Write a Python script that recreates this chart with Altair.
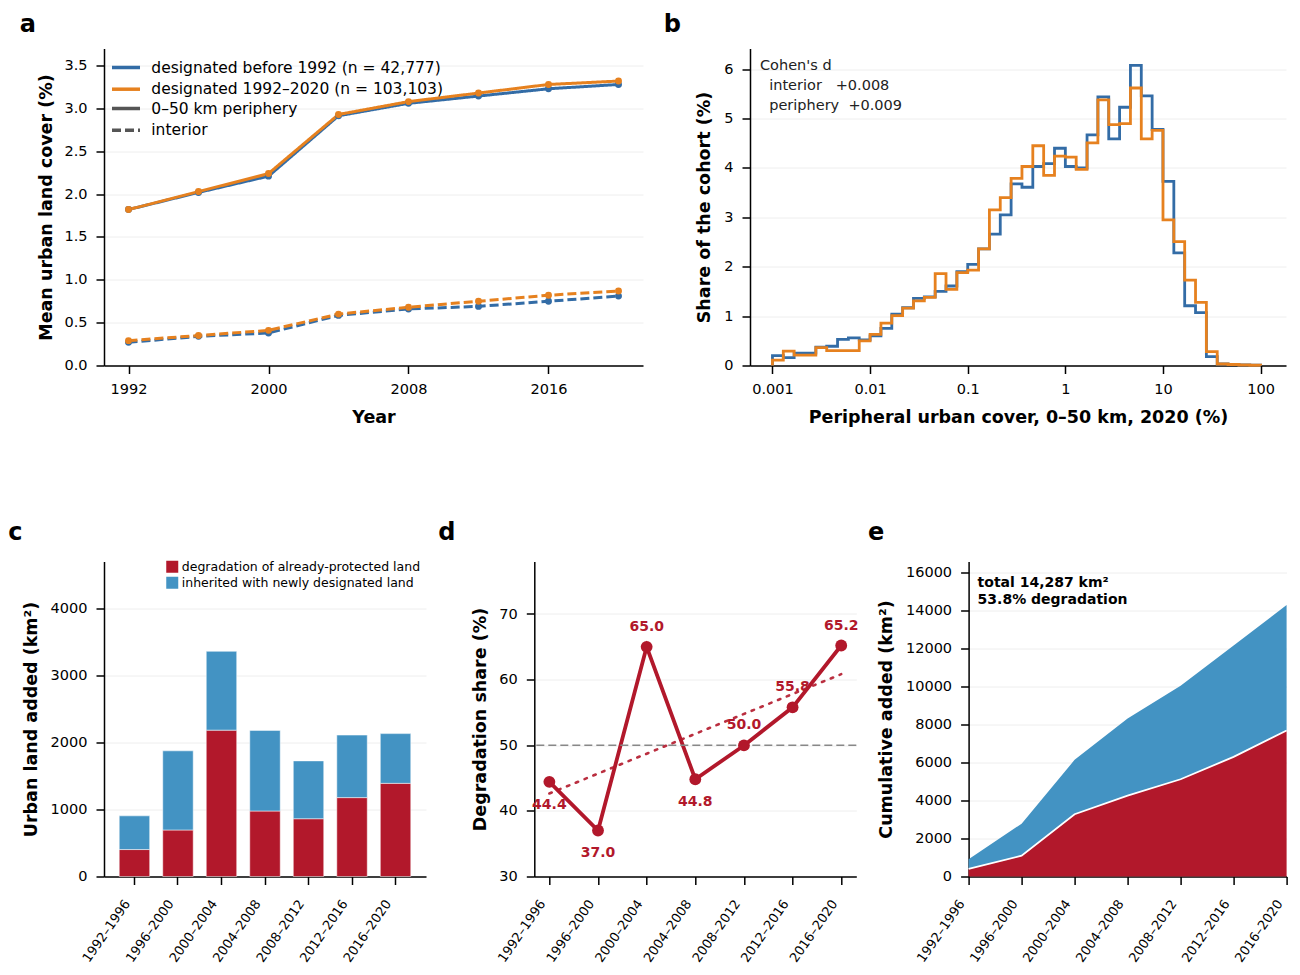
import json
import altair as alt
import numpy as np
import pandas as pd

FONT = "DejaVu Sans"
BLUE, ORANGE, GREY = "#336ca6", "#e6811f", "#555555"
RED, SKY = "#b2182b", "#4393c3"

# ---------------- panel a data ----------------
years = [1992, 1996, 2000, 2004, 2008, 2012, 2016, 2020]
periphery_before = [1.82, 2.02, 2.21, 2.915, 3.06, 3.145, 3.23, 3.28]
periphery_new = [1.82, 2.03, 2.24, 2.93, 3.08, 3.18, 3.28, 3.32]
interior_before = [0.27, 0.34, 0.38, 0.585, 0.66, 0.69, 0.75, 0.81]
interior_new = [0.29, 0.35, 0.41, 0.60, 0.68, 0.75, 0.82, 0.87]
cohort_labels = ["designated before 1992 (n = 42,777)", "designated 1992–2020 (n = 103,103)"]
zone_labels = ["0–50 km periphery", "interior"]
year_ticks = [1992, 2000, 2008, 2016]
a_y_ticks = [0, 0.5, 1.0, 1.5, 2.0, 2.5, 3.0, 3.5]

# ---------------- panel b data ----------------
share_before = [0.20, 0.16, 0.25, 0.25, 0.37, 0.39, 0.53, 0.56, 0.52, 0.60,
                0.75, 1.04, 1.17, 1.36, 1.39, 1.50, 1.61, 1.90, 2.05, 2.36,
                2.66, 3.05, 3.68, 3.61, 4.03, 4.09, 4.40, 4.03, 4.00, 4.67,
                5.44, 4.59, 5.23, 6.08, 5.46, 4.78, 3.73, 2.28, 1.21, 1.07,
                0.18, 0.03, 0.02, 0.01, 0.005]
share_new = [0.11, 0.29, 0.21, 0.21, 0.36, 0.30, 0.30, 0.30, 0.50, 0.63,
             0.86, 1.01, 1.16, 1.31, 1.38, 1.86, 1.54, 1.88, 1.93, 2.36,
             3.15, 3.40, 3.79, 4.03, 4.45, 3.85, 4.24, 4.22, 3.97, 4.51,
             5.38, 4.88, 4.90, 5.62, 4.59, 4.76, 2.95, 2.51, 1.73, 1.28,
             0.28, 0.03, 0.02, 0.01, 0.005]
hist_log_range = (-3, 2)
log_ticks = [0.001, 0.01, 0.1, 1, 10, 100]
b_y_ticks = [0, 1, 2, 3, 4, 5, 6]
cohens_d_interior = 0.008
cohens_d_periphery = 0.009

# ---------------- panels c, d, e data ----------------
periods = ["1992–1996", "1996–2000", "2000–2004", "2004–2008",
           "2008–2012", "2012–2016", "2016–2020"]
degradation = [402, 694, 2184, 977, 862, 1177, 1390]
inherited = [503, 1181, 1176, 1203, 863, 933, 742]
component_labels = ["degradation of already-protected land", "inherited with newly designated land"]
c_y_ticks = [0, 1000, 2000, 3000, 4000]
d_y_ticks = [30, 40, 50, 60, 70]
parity_line = 50
e_y_ticks = [0, 2000, 4000, 6000, 8000, 10000, 12000, 14000, 16000]

W_TOP, H_TOP = 539, 317
W_B, H_BOT = 536, 315
W_BOT, W_E = 322, 318


def letter(ch, xpix, ypix):
    return alt.Chart(pd.DataFrame({"t": [ch]})).mark_text(
        align="left", baseline="alphabetic", fontSize=24, fontWeight="bold",
        color="black", font=FONT
    ).encode(x=alt.value(xpix), y=alt.value(ypix), text="t:N")


def spacer(xpix):
    # invisible helper that only aligns the panel's left edge with the row below
    return alt.Chart(pd.DataFrame({"s": [0]})).mark_rule(opacity=0, strokeOpacity=0).encode(
        x=alt.value(xpix), x2=alt.value(xpix + 0.5), y=alt.value(0), y2=alt.value(1))


def y_axis(title, tx, h, **kw):
    return alt.Axis(title=title, titleX=tx, titleY=h / 2, titleBaseline="bottom",
                    titleAlign="center", titleAngle=270, labelOverlap=False, **kw)


def x_title_axis(title, w, **kw):
    return alt.Axis(title=title, titleX=w / 2, titleY=42.6, titleBaseline="top",
                    titleAlign="center", grid=False, **kw)


def rotated_axis(**kw):
    return alt.Axis(title=None, labelAngle=-55, labelAlign="right", labelBaseline="top",
                    labelFontSize=13, labelPadding=13, labelOffset=-12, grid=False,
                    labelOverlap=False, **kw)


# ---------------- panel a ----------------
rows = []
for ci, (per, inte) in enumerate([(periphery_before, interior_before),
                                  (periphery_new, interior_new)]):
    for zi, vals in enumerate([per, inte]):
        for yr, v in zip(years, vals):
            rows.append({"year": yr, "value": v, "cohort": cohort_labels[ci],
                         "zone": zone_labels[zi]})
df_a = pd.DataFrame(rows)

leg_a = dict(title=None, orient="none", symbolType="M-1.4,0H1.4", symbolSize=400,
             symbolStrokeWidth=3.5, labelFontSize=15.5, labelOffset=13.3, rowPadding=0.7,
             padding=0, labelLimit=500, labelColor="black")

xa = alt.X("year:Q", scale=alt.Scale(domain=[1990.6, 2021.4], nice=False, zero=False),
           axis=x_title_axis("Year", W_TOP, values=year_ticks, format="d"))
ya = alt.Y("value:Q", scale=alt.Scale(domain=[0, 3.7], nice=False),
           axis=y_axis("Mean urban land cover (%)", -48.4, H_TOP, values=a_y_ticks, format=".1f"))
color_a = alt.Color("cohort:N", scale=alt.Scale(domain=cohort_labels, range=[BLUE, ORANGE]),
                    legend=alt.Legend(legendX=10, legendY=7, **leg_a))

a_lines = alt.Chart(df_a).mark_line(strokeWidth=3).encode(
    x=xa, y=ya, color=color_a,
    strokeDash=alt.StrokeDash("zone:N",
                              scale=alt.Scale(domain=zone_labels, range=[[1, 0], [9, 4]]),
                              legend=alt.Legend(legendX=10, legendY=48,
                                                symbolStrokeColor=GREY, **leg_a)),
    detail="zone:N",
)
a_pts = alt.Chart(df_a).mark_circle(size=48, opacity=1).encode(x=xa, y=ya, color=color_a)
chart_a = alt.layer(a_lines, a_pts, letter("a", -84.3, -16.3), spacer(-94.7)).properties(
    width=W_TOP, height=H_TOP)

# ---------------- panel b ----------------
edges = np.logspace(hist_log_range[0], hist_log_range[1], len(share_before) + 1)
rows = []
for ci, vals in enumerate([share_before, share_new]):
    pts = [(edges[0], 0.0)]
    for k, v in enumerate(vals):
        pts += [(edges[k], v), (edges[k + 1], v)]
    pts.append((edges[-1], 0.0))
    for o, (xv, yv) in enumerate(pts):
        rows.append({"x": float(xv), "share": yv, "cohort": cohort_labels[ci], "o": o})
df_b = pd.DataFrame(rows)

b_lines = alt.Chart(df_b).mark_line(strokeWidth=2.8, strokeJoin="miter").encode(
    x=alt.X("x:Q", scale=alt.Scale(type="log", domain=[10 ** -3.23, 10 ** 2.26], nice=False),
            axis=x_title_axis("Peripheral urban cover, 0–50 km, 2020 (%)", W_B,
                              values=log_ticks, format="~g")),
    y=alt.Y("share:Q", scale=alt.Scale(domain=[0, 6.42], nice=False),
            axis=y_axis("Share of the cohort (%)", -36.4, H_TOP, values=b_y_ticks)),
    color=alt.Color("cohort:N", scale=alt.Scale(domain=cohort_labels, range=[BLUE, ORANGE]),
                    legend=None),
    order="o:Q",
)
nb = "\u00a0"
cohen_lines = ["Cohen's d",
               "interior" + nb * 3 + f"{cohens_d_interior:+.3f}",
               "periphery" + nb * 2 + f"{cohens_d_periphery:+.3f}"]
cohen_x = [10, 19.2, 19.2]
b_texts = [
    alt.Chart(pd.DataFrame({"t": [t]})).mark_text(
        align="left", baseline="middle", fontSize=14.5, color="#222222", font=FONT
    ).encode(x=alt.value(xv), y=alt.value(17.5 + 20 * i), text="t:N")
    for i, (t, xv) in enumerate(zip(cohen_lines, cohen_x))
]
chart_b = alt.layer(b_lines, *b_texts, letter("b", -86.3, -16.3)).properties(
    width=W_B, height=H_TOP)

# ---------------- panel c ----------------
rows = []
for p, d, i in zip(periods, degradation, inherited):
    rows.append({"period": p, "component": component_labels[0], "value": d, "ord": 0})
    rows.append({"period": p, "component": component_labels[1], "value": i, "ord": 1})
df_c = pd.DataFrame(rows)

c_bars = alt.Chart(df_c).mark_bar(stroke="white", strokeWidth=0.5).encode(
    x=alt.X("period:N", sort=periods, scale=alt.Scale(paddingInner=0.3, paddingOuter=0.35),
            axis=rotated_axis()),
    y=alt.Y("value:Q", scale=alt.Scale(domain=[0, 4700], nice=False),
            axis=y_axis("Urban land added (km²)", -63.4, H_BOT, values=c_y_ticks, format="d")),
    color=alt.Color("component:N", scale=alt.Scale(domain=component_labels, range=[RED, SKY]),
                    legend=alt.Legend(title=None, orient="none", legendX=62, legendY=-1,
                                      symbolType="square", symbolSize=144, symbolStrokeWidth=0,
                                      labelFontSize=12.5, labelOffset=3.3, rowPadding=3,
                                      padding=0, labelLimit=400, labelColor="black")),
    order=alt.Order("ord:Q"),
)
chart_c = alt.layer(c_bars, letter("c", -95.7, -21.3)).properties(width=W_BOT, height=H_BOT)

# ---------------- panel d ----------------
df_d = pd.DataFrame({
    "idx": list(range(len(periods))),
    "period": periods,
    "share": [100.0 * d / (d + i) for d, i in zip(degradation, inherited)],
})
xd = alt.X("idx:Q", scale=alt.Scale(domain=[-0.31, len(periods) - 1 + 0.31], nice=False, zero=False),
           axis=rotated_axis(values=list(range(len(periods))),
                             labelExpr=json.dumps(periods, ensure_ascii=False) + "[datum.value]"))
yd = alt.Y("share:Q", scale=alt.Scale(domain=[30, 78], nice=False),
           axis=y_axis("Degradation share (%)", -44.4, H_BOT, values=d_y_ticks))

d_rule = alt.Chart(pd.DataFrame({"ref": [parity_line]})).mark_rule(
    color="#888888", strokeDash=[8, 4], strokeWidth=1.6
).encode(y=alt.Y("ref:Q"))
d_line = alt.Chart(df_d).mark_line(color=RED, strokeWidth=3.8).encode(x=xd, y=yd)
d_pts = alt.Chart(df_d).mark_circle(color=RED, size=140, opacity=1).encode(x=xd, y=yd)
lab_kw = dict(fontSize=14, fontWeight="bold", color=RED, font=FONT, baseline="middle")
d_lab_up = alt.Chart(df_d).transform_filter("round(datum.share * 10) / 10 >= 50").mark_text(
    dy=-20, **lab_kw).encode(x=xd, y=yd, text=alt.Text("share:Q", format=".1f"))
d_lab_dn = alt.Chart(df_d).transform_filter("round(datum.share * 10) / 10 < 50").mark_text(
    dy=23, **lab_kw).encode(x=xd, y=yd, text=alt.Text("share:Q", format=".1f"))
d_trend = alt.Chart(df_d).transform_regression("idx", "share").mark_line(
    color=RED, strokeDash=[2.5, 7], strokeWidth=2.6, strokeCap="round", opacity=0.9
).encode(x=xd, y=yd)
chart_d = alt.layer(d_line, d_rule, d_pts, d_lab_up, d_lab_dn, d_trend,
                    letter("d", -96, -21.3), spacer(-99.7)).properties(width=W_BOT, height=H_BOT)

# ---------------- panel e ----------------
cum_deg = np.cumsum(degradation)
cum_inh = np.cumsum(inherited)
rows = []
for p, cd, ci in zip(periods, cum_deg, cum_inh):
    rows.append({"period": p, "component": component_labels[0], "value": int(cd), "ord": 0})
    rows.append({"period": p, "component": component_labels[1], "value": int(ci), "ord": 1})
df_e = pd.DataFrame(rows)
total = int(cum_deg[-1] + cum_inh[-1])
pct = 100.0 * cum_deg[-1] / total

xe = alt.X("period:N", sort=periods, scale=alt.Scale(type="point", padding=0),
           axis=rotated_axis())
ye_scale = alt.Scale(domain=[0, 16580], nice=False)
ye_axis = y_axis("Cumulative added (km²)", -73.4, H_BOT, values=e_y_ticks, format="d")
e_area = alt.Chart(df_e).mark_area(opacity=1).encode(
    x=xe,
    y=alt.Y("value:Q", stack="zero", scale=ye_scale, axis=ye_axis),
    color=alt.Color("component:N", scale=alt.Scale(domain=component_labels, range=[RED, SKY]),
                    legend=None),
    order=alt.Order("ord:Q"),
)
e_edge = alt.Chart(df_e).transform_filter(alt.datum.ord == 0).mark_line(
    color="white", strokeWidth=1.8
).encode(x=xe, y=alt.Y("value:Q", scale=ye_scale, axis=ye_axis))
e_text = alt.Chart(pd.DataFrame({"t": [f"total {total:,} km²\n{pct:.1f}% degradation"]})).mark_text(
    align="left", baseline="top", lineBreak="\n", lineHeight=16.5, fontSize=14,
    fontWeight="bold", color="black", font=FONT
).encode(x=alt.value(9), y=alt.value(14.5), text="t:N")
chart_e = alt.layer(e_area, e_edge, e_text, letter("e", -100.7, -21.3)).properties(
    width=W_E, height=H_BOT)

# ---------------- assemble ----------------
top = alt.hconcat(chart_a, chart_b, spacing=20).resolve_scale(color="independent")
bottom = alt.hconcat(chart_c, chart_d, chart_e, spacing=8.3).resolve_scale(color="independent")
chart = alt.vconcat(top, bottom, spacing=94).resolve_scale(
    color="independent", strokeDash="independent"
).properties(
    padding={"left": 0, "top": 4.5, "right": 0, "bottom": 0}
).configure(font=FONT).configure_view(stroke=None).configure_axis(
    labelFont=FONT, titleFont=FONT, labelFontSize=14.5, titleFontSize=17.5,
    titleFontWeight="bold", labelColor="black", titleColor="black",
    domainColor="black", domainWidth=1.5, tickColor="black", tickWidth=1.5,
    tickSize=8, labelPadding=9, gridColor="#eeeeee", gridWidth=1
).configure_axisX(grid=False).configure_axisY(grid=True).configure_legend(
    labelFont=FONT
)

chart.save("out.html", embed_options={"renderer": "svg", "actions": False})
